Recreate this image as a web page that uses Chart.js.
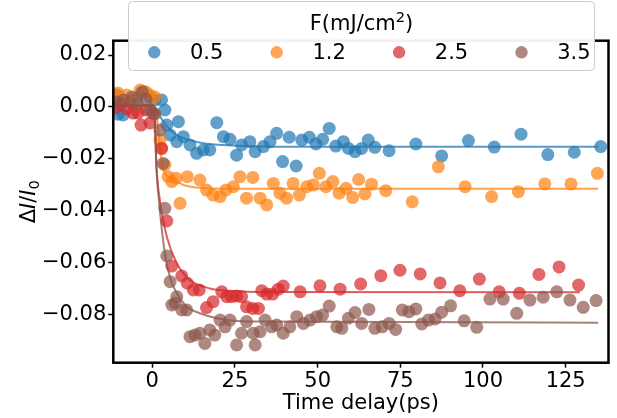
<!DOCTYPE html>
<html><head><meta charset="utf-8">
<script src="https://cdn.jsdelivr.net/npm/chart.js@4"></script>
<style>html,body{margin:0;padding:0;background:#fff;}</style>
</head><body>
<canvas id="c" width="617" height="418"></canvas>
<script>
// ---- data ----
const legendTitleMain = "F(mJ/cm";
const legendTitleSup = "2";
const legendTitleEnd = ")";
const fluences = ["0.5", "1.2", "2.5", "3.5"];
const xTicks = [0, 25, 50, 75, 100, 125];
const yTicks = [0.02, 0.00, -0.02, -0.04, -0.06, -0.08];
const xLabel = "Time delay(ps)";

const tBlue = [-10.8,-10.3,-8.8,-6.7,-4.6,-2.7,-0.7,0.8,2.8,3.8,4.4,5.4,7.4,7.9,9.4,11.4,13.4,15.4,17.4,19.5,21.5,23.5,25.5,27.0,29.5,31.1,33.6,35.6,37.6,39.4,41.4,43.5,45.2,47.5,49.5,51.5,53.5,55.5,57.8,59.3,61.3,63.3,65.3,67.3,71.6,79.7,87.5,95.6,103.4,111.5,119.6,127.6,135.6];
const vBlue = [0.0046,-0.0028,-0.0031,0.0019,0.0034,0.0059,0.0038,0.0027,0.0027,-0.0012,-0.0070,-0.0108,-0.0134,-0.0057,-0.0115,-0.0147,-0.0179,-0.0166,-0.0166,-0.0061,-0.0115,-0.0125,-0.0186,-0.0147,-0.0134,-0.0173,-0.0153,-0.0134,-0.0102,-0.0211,-0.0117,-0.0228,-0.0128,-0.0117,-0.0143,-0.0125,-0.0083,-0.0151,-0.0134,-0.0160,-0.0173,-0.0160,-0.0128,-0.0156,-0.0169,-0.0143,-0.0189,-0.0130,-0.0155,-0.0105,-0.0184,-0.0175,-0.0153];

const tOrange = [-11.3,-10.4,-7.7,-5.8,-3.7,-1.9,-0.7,0.8,2.3,2.8,3.8,4.8,5.9,7.2,8.4,10.6,14.4,16.4,18.4,20.5,22.3,24.5,26.5,28.5,30.4,32.6,34.6,36.6,38.6,40.6,42.6,44.5,46.7,48.7,50.5,52.5,54.6,56.5,58.6,60.6,62.4,64.3,66.3,70.6,78.6,86.5,94.6,102.6,110.7,118.7,126.6,134.6];
const vOrange = [0.0038,0.0054,0.0046,0.0027,0.0065,0.0057,0.0046,0.0038,-0.0128,-0.0160,-0.0224,-0.0269,-0.0288,-0.0275,-0.0372,-0.0269,-0.0282,-0.0320,-0.0340,-0.0346,-0.0320,-0.0308,-0.0269,-0.0352,-0.0272,-0.0352,-0.0378,-0.0295,-0.0333,-0.0352,-0.0295,-0.0340,-0.0308,-0.0301,-0.0256,-0.0308,-0.0288,-0.0333,-0.0314,-0.0349,-0.0280,-0.0336,-0.0298,-0.0323,-0.0366,-0.0231,-0.0308,-0.0346,-0.0327,-0.0297,-0.0297,-0.0256];

const tRed = [-11.3,-9.5,-7.7,-5.8,-4.3,-3.4,-1.9,-0.7,0.2,2.8,4.4,5.9,8.9,10.6,12.4,14.2,16.4,18.4,21.0,22.5,24.0,25.5,27.0,28.5,30.4,32.1,33.1,34.6,36.4,38.1,39.6,44.7,50.7,56.8,63.0,69.1,74.9,81.0,87.0,93.0,98.9,104.9,111.0,116.9,123.0,128.9];
const vRed = [-0.0004,0.0011,-0.0008,-0.0024,-0.0024,-0.0070,-0.0012,-0.0062,-0.0024,-0.0160,-0.0440,-0.0614,-0.0652,-0.0680,-0.0706,-0.0706,-0.0774,-0.0751,-0.0713,-0.0732,-0.0732,-0.0729,-0.0732,-0.0771,-0.0777,-0.0777,-0.0709,-0.0722,-0.0722,-0.0703,-0.0691,-0.0713,-0.0690,-0.0703,-0.0683,-0.0651,-0.0630,-0.0644,-0.0679,-0.0709,-0.0664,-0.0713,-0.0719,-0.0646,-0.0617,-0.0687];

const tBrown = [-10.9,-8.6,-6.1,-4.6,-3.1,-1.9,-0.7,0.8,2.3,3.3,3.8,4.4,5.4,5.9,6.9,7.4,8.9,10.4,11.4,12.9,14.4,15.9,17.4,18.9,20.5,22.0,23.5,25.5,27.0,28.5,30.5,31.1,32.6,34.1,36.1,37.6,39.6,41.6,43.7,45.7,47.7,49.7,51.5,53.5,55.8,57.3,59.3,61.3,63.3,65.5,67.3,69.5,71.6,73.6,75.6,77.6,79.7,81.5,83.5,85.5,87.5,90.2,94.3,98.1,102.1,106.1,110.2,114.2,118.2,122.3,126.3,130.3,134.2];
const vBrown = [0.0019,0.0027,0.0038,0.0011,0.0057,0.0030,-0.0012,-0.0027,-0.0089,-0.0218,-0.0391,-0.0575,-0.0674,-0.0764,-0.0757,-0.0732,-0.0783,-0.0783,-0.0886,-0.0880,-0.0873,-0.0912,-0.0860,-0.0880,-0.0822,-0.0848,-0.0822,-0.0918,-0.0873,-0.0828,-0.0873,-0.0918,-0.0867,-0.0822,-0.0848,-0.0841,-0.0873,-0.0848,-0.0809,-0.0835,-0.0822,-0.0809,-0.0803,-0.0768,-0.0848,-0.0854,-0.0815,-0.0793,-0.0835,-0.0781,-0.0854,-0.0848,-0.0835,-0.0858,-0.0783,-0.0790,-0.0779,-0.0837,-0.0822,-0.0818,-0.0792,-0.0767,-0.0825,-0.0850,-0.0741,-0.0741,-0.0796,-0.0745,-0.0734,-0.0713,-0.0745,-0.0773,-0.0747];

// fitted curves
const fitTBlue = [-11.5,0.5,1.3,2.3,3.8,6.4,10.4,15.4,21.5,30,45,134.8];
const fitVBlue = [0.0005,0.0005,-0.0015,-0.0036,-0.0064,-0.0100,-0.0125,-0.0140,-0.0147,-0.0152,-0.0154,-0.0154];
const fitTOrange = [-11.5,0.5,1.3,2.3,3.3,5.9,9.4,14.4,24.5,134.8];
const fitVOrange = [0.0005,0.0005,-0.0030,-0.0150,-0.0243,-0.0275,-0.0301,-0.0312,-0.0316,-0.0316];
const fitTRed = [-11.5,0.5,1.3,2.3,4.4,7.4,11.4,17.4,23.5,35,129.3];
const fitVRed = [0.0005,0.0005,-0.0243,-0.0360,-0.0501,-0.0603,-0.0668,-0.0700,-0.0709,-0.0714,-0.0715];
const fitTBrown = [-11.5,0.5,1.3,2.3,3.8,5.3,7.4,10.4,14.4,19.5,30,134.8];
const fitVBrown = [0.0005,0.0005,-0.0243,-0.0400,-0.0565,-0.0655,-0.0719,-0.0770,-0.0796,-0.0815,-0.0828,-0.0832];

// ---- styling ----
const FONT = '"DejaVu Sans", sans-serif';
const rgb = [[31,119,180],[255,127,14],[214,39,40],[140,86,75]];
const col = (i,a) => `rgba(${rgb[i][0]},${rgb[i][1]},${rgb[i][2]},${a})`;
const pts = (t,v) => t.map((x,i) => ({x:x, y:v[i]}));

const scatterT = [tBlue,tOrange,tRed,tBrown], scatterV = [vBlue,vOrange,vRed,vBrown];
const fitT = [fitTBlue,fitTOrange,fitTRed,fitTBrown], fitV = [fitVBlue,fitVOrange,fitVRed,fitVBrown];

const datasets = [];
for (let i = 0; i < 4; i++) {
  datasets.push({label: fluences[i], data: pts(scatterT[i], scatterV[i]), showLine:false,
    pointRadius:6.5, pointHoverRadius:6.5, pointBackgroundColor: col(i,0.7), pointBorderWidth:0,
    order: 8 - 2*i});
  datasets.push({label: fluences[i]+' fit', data: pts(fitT[i], fitV[i]), showLine:true,
    pointRadius:0, borderColor: col(i,0.75), borderWidth:2, fill:false,
    cubicInterpolationMode:'monotone', order: 7 - 2*i});
}

const framePlugin = {
  id:'frame',
  afterDatasetsDraw(chart){
    const {ctx, chartArea:a} = chart;
    ctx.save(); ctx.strokeStyle='#000'; ctx.lineWidth=2.5;
    ctx.strokeRect(a.left, a.top, a.right-a.left, a.bottom-a.top);
    ctx.restore();
  },
  afterDraw(chart){
    const {ctx, chartArea:a} = chart;
    ctx.save();
    ctx.fillStyle = '#000';
    // x axis title
    ctx.font = '21px ' + FONT; ctx.textAlign='center'; ctx.textBaseline='alphabetic';
    ctx.fillText(xLabel, (a.left+a.right)/2, 408.5);
    // y axis title: ΔI/I0 (italic I, subscript 0)
    const parts = [
      {t:'\u0394', f:'21px '+FONT, dy:0},
      {t:'I', f:'italic 21px '+FONT, dy:0},
      {t:'/', f:'21px '+FONT, dy:0},
      {t:'I', f:'italic 21px '+FONT, dy:0},
      {t:'0', f:'14.7px '+FONT, dy:4}
    ];
    let total = 0;
    parts.forEach(p => { ctx.font = p.f; p.w = ctx.measureText(p.t).width; total += p.w; });
    ctx.translate(35, (a.top+a.bottom)/2);
    ctx.rotate(-Math.PI/2);
    ctx.textAlign='left';
    let x = -total/2;
    parts.forEach(p => { ctx.font = p.f; ctx.fillText(p.t, x, p.dy); x += p.w; });
    ctx.restore();

    // legend
    ctx.save();
    const bx=128.5, by=1.5, bw=466, bh=69, r=4;
    ctx.beginPath(); ctx.roundRect(bx, by, bw, bh, r);
    ctx.fillStyle='rgba(255,255,255,0.95)'; ctx.fill();
    ctx.strokeStyle='#cccccc'; ctx.lineWidth=1; ctx.stroke();
    ctx.fillStyle='#000'; ctx.textBaseline='alphabetic'; ctx.textAlign='left';
    const tparts = [
      {t:legendTitleMain, f:'21px '+FONT, dy:0},
      {t:legendTitleSup, f:'14.7px '+FONT, dy:-8},
      {t:legendTitleEnd, f:'21px '+FONT, dy:0}
    ];
    let tw = 0;
    tparts.forEach(p => { ctx.font = p.f; p.w = ctx.measureText(p.t).width; tw += p.w; });
    let tx = bx + bw/2 - tw/2;
    tparts.forEach(p => { ctx.font = p.f; ctx.fillText(p.t, tx, 29.5 + p.dy); tx += p.w; });
    ctx.font='21px '+FONT;
    for (let i=0;i<4;i++){
      const mx = 154.3 + i*122.4;
      ctx.beginPath(); ctx.arc(mx, 52.3, 6.2, 0, Math.PI*2); ctx.fillStyle=col(i,0.7); ctx.fill();
      ctx.fillStyle='#000';
      ctx.fillText(fluences[i], 190 + i*122.4, 58.5);
    }
    ctx.restore();
  }
};

new Chart(document.getElementById('c'), {
  type:'scatter',
  data:{datasets},
  options:{
    responsive:false, animation:false, devicePixelRatio:1,
    layout:{padding:{top:40.7, right:8.5, left:0, bottom:0}},
    plugins:{legend:{display:false}, tooltip:{enabled:false}},
    scales:{
      x:{type:'linear', min:-11.79, max:137.95,
        afterBuildTicks: s => { s.ticks = xTicks.map(v => ({value:v})); },
        afterFit: s => { s.height = 55.3; },
        ticks:{font:{family:FONT, size:21}, color:'#000', padding:1, maxRotation:0, autoSkip:false,
          callback: v => String(v)},
        grid:{display:true, drawOnChartArea:false, drawTicks:true, tickLength:5, tickColor:'#000', tickWidth:1.5},
        border:{display:false}},
      y:{type:'linear', min:-0.09865, max:0.02553,
        afterBuildTicks: s => { s.ticks = yTicks.map(v => ({value:v})); },
        afterFit: s => { s.width = 113.3; },
        ticks:{font:{family:FONT, size:21}, color:'#000', padding:2, autoSkip:false,
          callback: v => (v < -1e-9 ? '\u2212' : '') + Math.abs(v).toFixed(2)},
        grid:{display:true, drawOnChartArea:false, drawTicks:true, tickLength:5, tickColor:'#000', tickWidth:1.5},
        border:{display:false}}
    }
  },
  plugins:[framePlugin]
});
</script>
</body></html>
